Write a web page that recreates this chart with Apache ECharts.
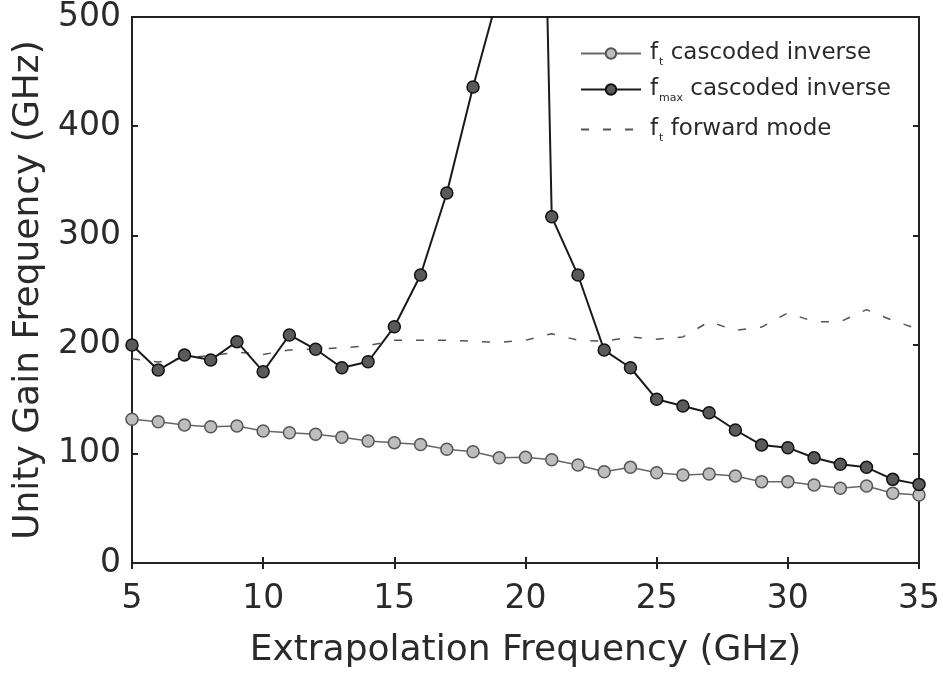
<!DOCTYPE html>
<html>
<head>
<meta charset="utf-8">
<script src="https://cdn.jsdelivr.net/npm/echarts@6/dist/echarts.min.js"></script>
<style>
html,body{margin:0;padding:0;background:#fff;}
#chart{width:943px;height:684px;}
</style>
</head>
<body>
<div id="chart"></div>
<script>
// ---- data ----
var xValues = [5,6,7,8,9,10,11,12,13,14,15,16,17,18,19,20,21,22,23,24,25,26,27,28,29,30,31,32,33,34,35];
var ftInverse = [131.6,129.4,126.4,124.8,125.5,120.9,119.3,117.9,115.1,111.7,110.2,108.5,104.1,101.9,96.4,96.8,94.5,89.7,83.6,87.6,82.7,80.6,81.5,79.7,74.5,74.5,71.4,68.4,70.5,63.8,62.3];
var fmaxInverse = [199.6,176.7,190.5,185.9,202.7,175.2,208.8,195.7,178.8,184.3,216.4,263.7,338.8,435.9,524,1440,317,263.7,195,178.8,149.9,143.8,137.6,121.8,108,105.6,96.4,90.4,87.6,76.6,72];
var ftForward = [187,184,188,190,193,191,195,196,197,199,204,204,204,203,202,204,210,204,203,207,205,207,221,213,216,229,221,221,232,222,214];
var seriesNames = ['ft cascoded inverse','fmax cascoded inverse','ft forward mode'];
var xTicks = [5,10,15,20,25,30,35];
var yTicks = [0,100,200,300,400,500];
var xTitle = 'Extrapolation Frequency (GHz)';
var yTitle = 'Unity Gain Frequency (GHz)';

function pairs(ys){ return xValues.map(function(x,i){ return [x, ys[i]]; }); }

var FONT = 'DejaVu Sans';
var TXT = '#2a2a2a';

var legendRich = {
  f: {fontFamily: FONT, fontSize: 23, color: TXT},
  sub: {fontFamily: FONT, fontSize: 11, color: TXT, padding: [18,0,0,1]}
};
function legendFmt(name){
  if (name === seriesNames[0]) return '{f|f}{sub|t}{f| cascoded inverse}';
  if (name === seriesNames[1]) return '{f|f}{sub|max}{f| cascoded inverse}';
  return '{f|f}{sub|t}{f| forward mode}';
}
function mkLegend(name, top){
  return {
    data: [name], left: 580, top: top, orient: 'vertical', padding: 0,
    itemWidth: 60, itemHeight: 13, itemGap: 0,
    formatter: legendFmt,
    textStyle: {rich: legendRich, padding: [0,0,0,4]},
    selectedMode: false
  };
}

var chart = echarts.init(document.getElementById('chart'), null, {renderer: 'canvas'});
var axisLineStyle = {color: '#222', width: 2};
var option = {
  backgroundColor: '#fff',
  animation: false,
  grid: {left: 132, top: 17, right: 22, bottom: 121, show: true, borderColor: '#222', borderWidth: 2, backgroundColor: 'transparent'},
  legend: [mkLegend(seriesNames[0], 42), mkLegend(seriesNames[1], 78), mkLegend(seriesNames[2], 118)],
  xAxis: [{
    type: 'value', min: xTicks[0], max: xTicks[xTicks.length-1], interval: 5,
    name: xTitle, nameLocation: 'middle', nameGap: 70,
    nameTextStyle: {fontFamily: FONT, fontSize: 36, color: TXT},
    axisLine: {show: true, lineStyle: axisLineStyle},
    axisTick: {show: true, inside: true, length: 6, lineStyle: axisLineStyle},
    axisLabel: {fontFamily: FONT, fontSize: 33, color: TXT, margin: 20},
    splitLine: {show: false}
  },{
    type: 'value', position: 'top', min: xTicks[0], max: xTicks[xTicks.length-1], interval: 5,
    axisLine: {show: true, lineStyle: axisLineStyle},
    axisTick: {show: true, inside: true, length: 6, lineStyle: axisLineStyle},
    axisLabel: {show: false}, splitLine: {show: false}
  }],
  yAxis: [{
    type: 'value', min: yTicks[0], max: yTicks[yTicks.length-1], interval: 100,
    name: yTitle, nameLocation: 'middle', nameGap: 82, nameRotate: 90,
    nameTextStyle: {fontFamily: FONT, fontSize: 36, color: TXT},
    axisLine: {show: true, lineStyle: axisLineStyle},
    axisTick: {show: true, inside: true, length: 6, lineStyle: axisLineStyle},
    axisLabel: {fontFamily: FONT, fontSize: 33, color: TXT, margin: 11},
    splitLine: {show: false}
  },{
    type: 'value', position: 'right', min: yTicks[0], max: yTicks[yTicks.length-1], interval: 100,
    axisLine: {show: true, lineStyle: axisLineStyle},
    axisTick: {show: true, inside: true, length: 6, lineStyle: axisLineStyle},
    axisLabel: {show: false}, splitLine: {show: false}
  }],
  series: [{
    name: seriesNames[0], type: 'line', data: pairs(ftInverse),
    symbol: 'circle', symbolSize: 12, clip: true,
    lineStyle: {color: '#666', width: 1.5},
    itemStyle: {color: '#bdbdbd', borderColor: '#555', borderWidth: 1.5},
    z: 3
  },{
    name: seriesNames[1], type: 'line', data: pairs(fmaxInverse),
    symbol: 'circle', symbolSize: 12, clip: true,
    lineStyle: {color: '#1a1a1a', width: 2},
    itemStyle: {color: '#5a5a5a', borderColor: '#111', borderWidth: 1.5},
    z: 4
  },{
    name: seriesNames[2], type: 'line', data: pairs(ftForward),
    symbol: 'none', showSymbol: false, clip: true,
    lineStyle: {color: '#555', width: 1.5, type: [8, 14]},
    itemStyle: {color: 'rgba(0,0,0,0)', borderWidth: 0},
    z: 2
  }]
};
chart.setOption(option);
</script>
</body>
</html>
